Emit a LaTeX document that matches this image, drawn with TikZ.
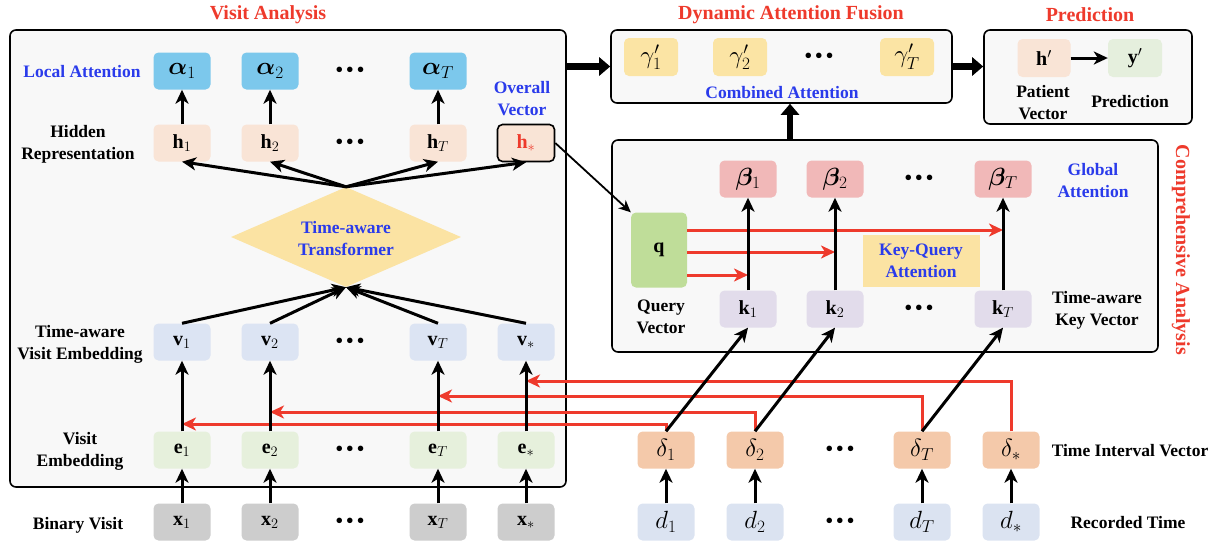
\documentclass[tikz,border=0pt]{standalone}
\usepackage{amsmath}
\usepackage{bm}
\usepackage{fontspec}
\setmainfont{Liberation Serif}
\usetikzlibrary{arrows.meta,shapes.geometric,calc}
\definecolor{alphaC}{HTML}{7CC8EC}
\definecolor{hC}{HTML}{F9E4D6}
\definecolor{vC}{HTML}{DCE4F3}
\definecolor{eC}{HTML}{E6F0DC}
\definecolor{xC}{HTML}{CDCDCD}
\definecolor{diaC}{HTML}{FBE3A3}
\definecolor{gamC}{HTML}{FBE4A4}
\definecolor{ypC}{HTML}{E5EFDD}
\definecolor{betaC}{HTML}{F1B8B8}
\definecolor{qC}{HTML}{BFDD99}
\definecolor{kC}{HTML}{E2DCEB}
\definecolor{delC}{HTML}{F4C9AA}
\definecolor{dC}{HTML}{DBE3F1}
\definecolor{redC}{HTML}{EE3A2C}
\definecolor{blueC}{HTML}{2A3BEB}
\definecolor{bgC}{HTML}{F8F8F8}
\newcommand{\mydots}{\textbullet\hspace{2.5pt}\textbullet\hspace{2.5pt}\textbullet}
\tikzset{
  lbl/.style={font=\fontsize{17.5}{22}\selectfont\bfseries, align=center, inner sep=0pt},
  cell/.style={lbl, font=\fontsize{20}{22}\selectfont\bfseries, rounded corners=5pt, minimum width=57pt, minimum height=37pt},
  gcell/.style={cell, font=\fontsize{24}{26}\selectfont\bfseries},
  dts/.style={font=\fontsize{23}{23}\selectfont, inner sep=0pt},
  arr/.style={line width=3pt, -{Stealth[length=14pt,width=13pt,inset=4pt]}},
  rarr/.style={arr, draw=redC},
  thinarr/.style={line width=1.8pt, -{Stealth[length=12pt,width=11pt,inset=3.5pt]}},
  big/.style={draw, line width=1.6pt, fill=bgC, rounded corners=6pt, inner sep=0pt},
  title/.style={font=\fontsize{20}{24}\selectfont\bfseries, text=redC, inner sep=0pt},
  blab/.style={lbl, text=blueC},
  fat/.style={line width=6.5pt, -{Triangle[length=11pt,width=18pt]}},
}
\begin{document}
\begin{tikzpicture}[x=1pt,y=-1pt]
\useasboundingbox (0,0) rectangle (1218,547);
% big boxes
\node[big, minimum width=556pt, minimum height=457pt] (va) at (288,258.5) {};
\node[big, minimum width=341pt, minimum height=73pt] (daf) at (781.5,66.5) {};
\node[big, minimum width=208pt, minimum height=94pt] (pred) at (1088,77) {};
\node[big, minimum width=546pt, minimum height=212pt] (ca) at (885,246) {};
% titles
\node[title] (tva) at (268,15) {Visit Analysis};
\node[title] (tdaf) at (791,15) {Dynamic Attention Fusion};
\node[title] (tpred) at (1090,15) {Prediction};
\node[title, rotate=-90] (tca) at (1181,250) {Comprehensive Analysis};
% diamond
\node[diamond, fill=diaC, minimum width=230pt, minimum height=100pt, inner sep=0pt] (tf) at (346,237) {};
\node[blab] (tft) at (346,239) {Time-aware\\Transformer};
% left labels
\node[blab] (lla) at (82,72) {Local Attention};
\node[lbl] (lhr) at (78,144) {Hidden\\Representation};
\node[lbl] (ltv) at (80,344) {Time-aware\\Visit Embedding};
\node[lbl] (lve) at (80,451) {Visit\\Embedding};
\node[lbl] (lbv) at (78,525) {Binary Visit};
\node[blab] (lov) at (522,99) {Overall\\Vector};
% alpha row
\node[gcell, fill=alphaC] (a1) at (182,71) {$\bm{\alpha}_1$};
\node[gcell, fill=alphaC] (a2) at (270,71) {$\bm{\alpha}_2$};
\node[dts] (ad) at (350,72) {\mydots};
\node[gcell, fill=alphaC] (aT) at (438,71) {$\bm{\alpha}_T$};
% h row
\node[cell, fill=hC] (h1) at (182,143) {$\mathbf{h}_1$};
\node[cell, fill=hC] (h2) at (270,143) {$\mathbf{h}_2$};
\node[dts] (hd) at (350,144) {\mydots};
\node[cell, fill=hC] (hT) at (438,143) {$\mathbf{h}_T$};
\node[cell, fill=hC, draw, line width=1.6pt] (hs) at (526,143) {\textcolor{redC}{$\mathbf{h}_*$}};
% v row
\node[cell, fill=vC] (v1) at (182,342) {$\mathbf{v}_1$};
\node[cell, fill=vC] (v2) at (270,342) {$\mathbf{v}_2$};
\node[dts] (vd) at (350,343) {\mydots};
\node[cell, fill=vC] (vT) at (438,342) {$\mathbf{v}_T$};
\node[cell, fill=vC] (vs) at (526,342) {$\mathbf{v}_*$};
% e row
\node[cell, fill=eC] (e1) at (182,450) {$\mathbf{e}_1$};
\node[cell, fill=eC] (e2) at (270,450) {$\mathbf{e}_2$};
\node[dts] (ed) at (350,451) {\mydots};
\node[cell, fill=eC] (eT) at (438,450) {$\mathbf{e}_T$};
\node[cell, fill=eC] (es) at (526,450) {$\mathbf{e}_*$};
% x row
\node[cell, fill=xC] (x1) at (182,522) {$\mathbf{x}_1$};
\node[cell, fill=xC] (x2) at (270,522) {$\mathbf{x}_2$};
\node[dts] (xd) at (350,523) {\mydots};
\node[cell, fill=xC] (xT) at (438,522) {$\mathbf{x}_T$};
\node[cell, fill=xC] (xs) at (526,522) {$\mathbf{x}_*$};
% DAF
\node[gcell, fill=gamC, minimum width=54pt, minimum height=38pt] (g1) at (651,57) {$\gamma'_1$};
\node[gcell, fill=gamC, minimum width=54pt, minimum height=38pt] (g2) at (740,57) {$\gamma'_2$};
\node[dts] (gd) at (819,58) {\mydots};
\node[gcell, fill=gamC, minimum width=54pt, minimum height=38pt] (gT) at (907,57) {$\gamma'_T$};
\node[blab] (lca) at (782,93) {Combined Attention};
% Prediction
\node[cell, fill=hC, minimum width=53pt, minimum height=38pt] (hp) at (1044,58) {$\mathbf{h}'$};
\node[cell, fill=ypC, minimum width=54pt, minimum height=38pt] (yp) at (1135,58) {$\mathbf{y}'$};
\node[lbl] (lpv) at (1043,103) {Patient\\Vector};
\node[lbl] (lpr) at (1130,102) {Prediction};
% CA
\node[gcell, fill=betaC] (b1) at (748,179) {$\bm{\beta}_1$};
\node[gcell, fill=betaC] (b2) at (835,179) {$\bm{\beta}_2$};
\node[dts] (bd) at (919,180) {\mydots};
\node[gcell, fill=betaC] (bT) at (1003,179) {$\bm{\beta}_T$};
\node[blab] (lga) at (1093,181) {Global\\Attention};
\node[cell, fill=qC, minimum width=56pt, minimum height=75pt] (q) at (659,250) {$\mathbf{q}$};
\node[lbl, fill=diaC, text=blueC, minimum width=117pt, minimum height=52pt] (kq) at (921,261) {Key-Query\\Attention};
\node[cell, fill=kC] (k1) at (748,309) {$\mathbf{k}_1$};
\node[cell, fill=kC] (k2) at (835,309) {$\mathbf{k}_2$};
\node[dts] (kd) at (919,310) {\mydots};
\node[cell, fill=kC] (kT) at (1003,309) {$\mathbf{k}_T$};
\node[lbl] (lqv) at (661,317) {Query\\Vector};
\node[lbl] (lkv) at (1097,310) {Time-aware\\Key Vector};
% delta row
\node[gcell, fill=delC] (del1) at (666,450) {$\delta_1$};
\node[gcell, fill=delC] (del2) at (755,450) {$\delta_2$};
\node[dts] (deld) at (840,451) {\mydots};
\node[gcell, fill=delC] (delT) at (922,450) {$\delta_T$};
\node[gcell, fill=delC] (dels) at (1011,450) {$\delta_*$};
\node[lbl] (ltiv) at (1130,451) {Time Interval Vector};
% d row
\node[gcell, fill=dC] (d1) at (666,522) {$d_1$};
\node[gcell, fill=dC] (d2) at (755,522) {$d_2$};
\node[dts] (dd) at (840,523) {\mydots};
\node[gcell, fill=dC] (dT) at (922,522) {$d_T$};
\node[gcell, fill=dC] (ds) at (1011,522) {$d_*$};
\node[lbl] (lrt) at (1128,523) {Recorded Time};
% coordinates for red arrow ends
\coordinate (re1) at (182,424);
\coordinate (re2) at (270,412);
\coordinate (reT) at (438,396);
\coordinate (res) at (526,381);
\coordinate (rq1) at (748,275);
\coordinate (rq2) at (835,252);
\coordinate (rqT) at (1003,230);
\coordinate (fx) at (790,140);
% red arrows
\draw[rarr] (del1.north) |- (re1);
\draw[rarr] (del2.north) |- (re2);
\draw[rarr] (delT.north) |- (reT);
\draw[rarr] (dels.north) |- (res);
\draw[rarr] (q.east |- rq1) -- (rq1);
\draw[rarr] (q.east |- rq2) -- (rq2);
\draw[rarr] (q.east |- rqT) -- (rqT);
% black arrows
\foreach \i in {1,2,T}{
  \draw[arr] (h\i) -- (a\i);
}
\foreach \i in {1,2,T,s}{
  \draw[arr] (tf.north) -- (h\i.south);
  \draw[arr] (v\i.north) -- (tf.south);
  \draw[arr] (e\i) -- (v\i);
  \draw[arr] (x\i) -- (e\i);
  \draw[arr] (d\i) -- (del\i);
}
\foreach \i in {1,2,T}{
  \draw[arr] (del\i.north) -- (k\i.south);
  \draw[arr] (k\i) -- (b\i);
}
\draw[thinarr] (hs.east) -- (q.north west);
\draw[arr] (hp) -- (yp);
% fat arrows
\draw[fat] (va.east |- daf.west) -- (daf.west);
\draw[fat] (daf.east) -- (pred.west |- daf.east);
\draw[fat] (fx) -- (fx |- daf.south);
\end{tikzpicture}
\end{document}
